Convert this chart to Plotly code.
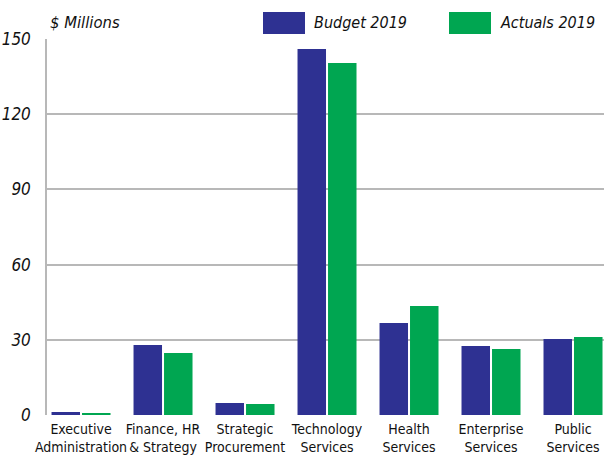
import plotly.graph_objects as go

categories = ["Executive<br>Administration", "Finance, HR<br>& Strategy", "Strategic<br>Procurement",
              "Technology<br>Services", "Health<br>Services", "Enterprise<br>Services", "Public<br>Services"]
budget_2019 = [1.2, 27.9, 4.8, 146.0, 36.7, 27.5, 30.3]
actuals_2019 = [0.8, 24.7, 4.4, 140.4, 43.5, 26.3, 31.1]
y_ticks = [0, 30, 60, 90, 120, 150]

BLUE = "#2E3192"
GREEN = "#00A651"
FONT = "DejaVu Sans Condensed, Liberation Sans, sans-serif"

x = list(range(len(categories)))
fig = go.Figure()
fig.add_trace(go.Bar(x=x, y=budget_2019, name="Budget 2019", marker=dict(color=BLUE, line=dict(width=0))))
fig.add_trace(go.Bar(x=x, y=actuals_2019, name="Actuals 2019", marker=dict(color=GREEN, line=dict(width=0))))

fig.update_layout(
    width=604, height=458,
    margin=dict(l=47, r=0, t=39, b=43),
    paper_bgcolor="white", plot_bgcolor="white",
    barmode="group", bargap=0.256, bargroupgap=0.066,
    showlegend=False,
    font=dict(family=FONT, color="#111111"),
)
fig.update_xaxes(
    tickmode="array", tickvals=x, ticktext=categories, tickangle=0, automargin=False,
    range=[-0.415, 6.378], showgrid=False, zeroline=False, showline=False,
    tickfont=dict(size=14, family=FONT, color="#111111"), ticks="", ticklabelstandoff=4,
)
fig.update_yaxes(
    range=[0, 150], tickmode="array", tickvals=y_ticks, automargin=False,
    showgrid=True, gridcolor="#b8b8b8", gridwidth=2,
    zeroline=False, showline=True, linecolor="#b8b8b8", linewidth=1.5,
    ticks="", ticklabelstandoff=11,
    tickfont=dict(size=17, family=FONT, style="italic", color="#111111"),
)

# Legend and unit label
fig.add_annotation(xref="paper", yref="paper", x=(48 - 47) / 557, y=1.0, yshift=17, xanchor="left", yanchor="middle",
                   text="$ Millions", showarrow=False, font=dict(size=16.5, family=FONT, style="italic"))
for x0, x1, color, label in [(263, 305, BLUE, "Budget 2019"), (449, 491, GREEN, "Actuals 2019")]:
    fig.add_shape(type="rect", xref="paper", yref="paper",
                  x0=(x0 - 47) / 557, x1=(x1 - 47) / 557,
                  y0=1 + (39 - 34) / 376, y1=1 + (39 - 12) / 376,
                  fillcolor=color, line=dict(width=0))
    fig.add_annotation(xref="paper", yref="paper", x=(x1 + 7 - 47) / 557, y=1.0, yshift=17,
                       xanchor="left", yanchor="middle", text=label, showarrow=False,
                       font=dict(size=16, family=FONT, style="italic"))

fig.write_html("out.html", config={"displayModeBar": False},
               post_script="document.body.style.margin='0';document.body.style.overflow='hidden';")
